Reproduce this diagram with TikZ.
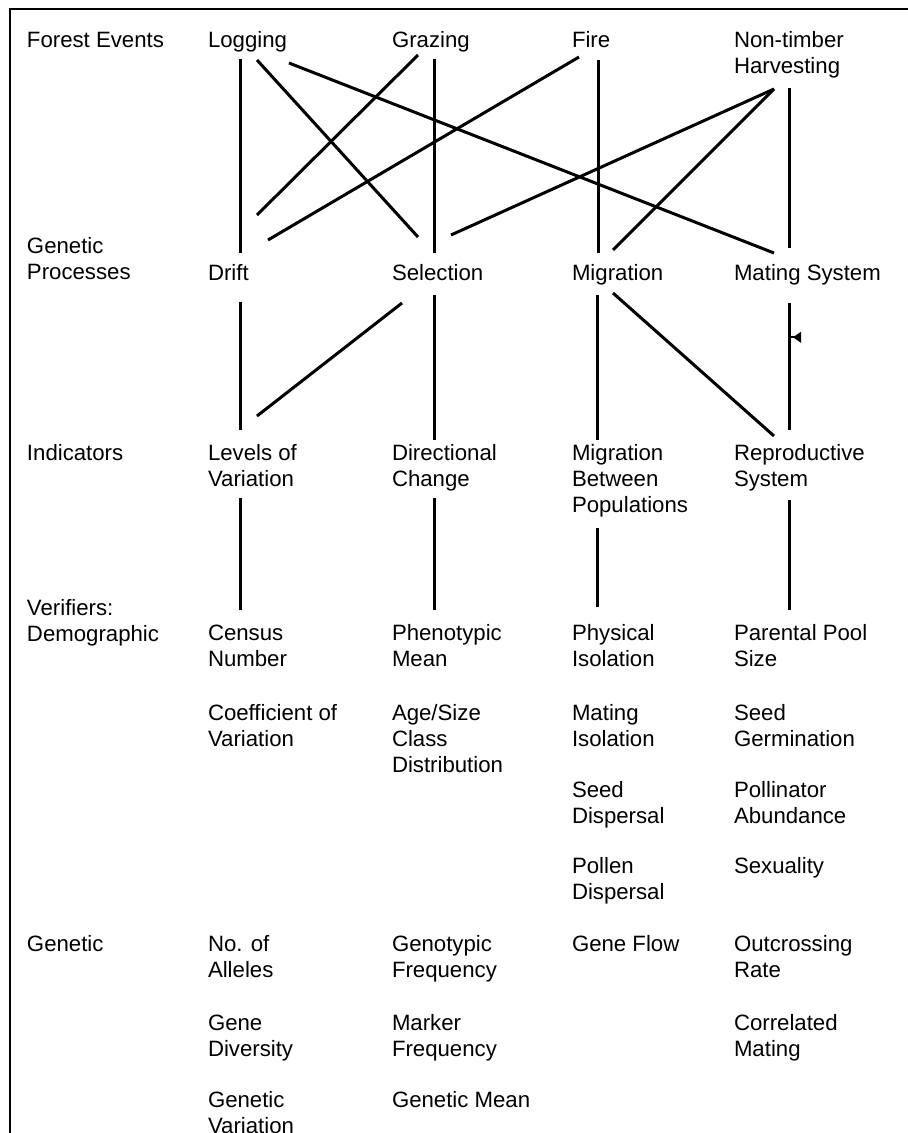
\documentclass[tikz,border=0pt]{standalone}
\usepackage{fontspec}
\setmainfont{Liberation Sans}
\newcommand{\mlines}[1]{\begin{tabular}[t]{@{}l@{}}#1\end{tabular}}
\begin{document}
\begin{tikzpicture}[x=1pt,y=-1pt,
  lbl/.style={font=\fontsize{22.2}{26}\selectfont, inner sep=0pt, outer sep=0pt, anchor=base west},
  link/.style={line width=3pt},
  frameline/.style={line width=2pt}]
\useasboundingbox (0,0) rectangle (908,1133);
% frame
\draw[frameline] (908,8.5) -- (10,8.5) -- (10,1140);
% row labels
\node[lbl] (lfe) at (27,47) {Forest Events};
\node[lbl] (lgp) at (27,253) {\mlines{Genetic\\Processes}};
\node[lbl] (lind) at (27,460) {Indicators};
\node[lbl] (lver) at (27,615) {\mlines{Verifiers:\\Demographic}};
\node[lbl] (lgen) at (27,951) {Genetic};
% forest events
\node[lbl] (logging) at (208,47) {Logging};
\node[lbl] (grazing) at (392,47) {Grazing};
\node[lbl] (fire) at (572,47) {Fire};
\node[lbl] (nth) at (734,47) {\mlines{Non-timber\\Harvesting}};
% genetic processes
\node[lbl] (drift) at (208,280) {Drift};
\node[lbl] (selection) at (392,280) {Selection};
\node[lbl] (migration) at (572,280) {Migration};
\node[lbl] (mating) at (734,280) {Mating System};
% indicators
\node[lbl] (levels) at (208,460) {\mlines{Levels of\\Variation}};
\node[lbl] (directional) at (392,460) {\mlines{Directional\\Change}};
\node[lbl] (migbetween) at (572,460) {\mlines{Migration\\Between\\Populations}};
\node[lbl] (repro) at (734,460) {\mlines{Reproductive\\System}};
% demographic verifiers
\node[lbl] (census) at (208,640) {\mlines{Census\\Number}};
\node[lbl] (coef) at (208,720) {\mlines{Coefficient of\\Variation}};
\node[lbl] (pheno) at (392,640) {\mlines{Phenotypic\\Mean}};
\node[lbl] (agesize) at (392,720) {\mlines{Age/Size\\Class\\Distribution}};
\node[lbl] (physical) at (572,640) {\mlines{Physical\\Isolation}};
\node[lbl] (matiso) at (572,720) {\mlines{Mating\\Isolation}};
\node[lbl] (seeddisp) at (572,797) {\mlines{Seed\\Dispersal}};
\node[lbl] (pollen) at (572,873) {\mlines{Pollen\\Dispersal}};
\node[lbl] (parental) at (734,640) {\mlines{Parental Pool\\Size}};
\node[lbl] (seedgerm) at (734,720) {\mlines{Seed\\Germination}};
\node[lbl] (pollinator) at (734,797) {\mlines{Pollinator\\Abundance}};
\node[lbl] (sexuality) at (734,873) {Sexuality};
% genetic verifiers
\node[lbl] (alleles) at (208,951) {\mlines{No. of\\Alleles}};
\node[lbl] (genediv) at (208,1030) {\mlines{Gene\\Diversity}};
\node[lbl] (genvar) at (208,1107) {\mlines{Genetic\\Variation}};
\node[lbl] (genotypic) at (392,951) {\mlines{Genotypic\\Frequency}};
\node[lbl] (marker) at (392,1030) {\mlines{Marker\\Frequency}};
\node[lbl] (genmean) at (392,1107) {Genetic Mean};
\node[lbl] (geneflow) at (572,951) {Gene Flow};
\node[lbl] (outcross) at (734,951) {\mlines{Outcrossing\\Rate}};
\node[lbl] (correlated) at (734,1030) {\mlines{Correlated\\Mating}};
% forest events -> genetic processes
\draw[link] ([shift={(32,12)}]logging.base west) -- ([shift={(32,-27)}]drift.base west);
\draw[link] ([shift={(49,13)}]logging.base west) -- ([shift={(26,-43)}]selection.base west);
\draw[link] ([shift={(81,16)}]logging.base west) -- ([shift={(40,-27)}]mating.base west);
\draw[link] ([shift={(26,8)}]grazing.base west) -- ([shift={(49,-65)}]drift.base west);
\draw[link] ([shift={(42,12)}]grazing.base west) -- ([shift={(42,-27)}]selection.base west);
\draw[link] ([shift={(7,10)}]fire.base west) -- ([shift={(60,-40)}]drift.base west);
\draw[link] ([shift={(26,13)}]fire.base west) -- ([shift={(26,-27)}]migration.base west);
\draw[link] ([shift={(40,42)}]nth.base west) -- ([shift={(59,-45)}]selection.base west);
\draw[link] ([shift={(40,42)}]nth.base west) -- ([shift={(41,-30)}]migration.base west);
\draw[link] ([shift={(55,41)}]nth.base west) -- ([shift={(55,-32)}]mating.base west);
% genetic processes -> indicators
\draw[link] ([shift={(32,22)}]drift.base west) -- ([shift={(32,-30)}]levels.base west);
\draw[link] ([shift={(10,23)}]selection.base west) -- ([shift={(49,-44)}]levels.base west);
\draw[link] ([shift={(42,15)}]selection.base west) -- ([shift={(42,-20)}]directional.base west);
\draw[link] ([shift={(25,15)}]migration.base west) -- ([shift={(25,-20)}]migbetween.base west);
\draw[link] ([shift={(41,13)}]migration.base west) -- ([shift={(40,-24)}]repro.base west);
\draw[link] ([shift={(55,23)}]mating.base west) -- coordinate[pos=0.27] (flag) ([shift={(55,-30)}]repro.base west);
\draw[line width=1.6pt] (flag) -- ++(6,0);
\fill ([shift={(4,0)}]flag) -- ++(8,-5.5) -- ++(0,11) -- cycle;
% indicators -> demographic verifiers
\draw[link] ([shift={(32,38)}]levels.base west) -- ([shift={(32,-30)}]census.base west);
\draw[link] ([shift={(42,38)}]directional.base west) -- ([shift={(42,-30)}]pheno.base west);
\draw[link] ([shift={(25,68)}]migbetween.base west) -- ([shift={(25,-33)}]physical.base west);
\draw[link] ([shift={(55,40)}]repro.base west) -- ([shift={(55,-30)}]parental.base west);
\end{tikzpicture}
\end{document}
